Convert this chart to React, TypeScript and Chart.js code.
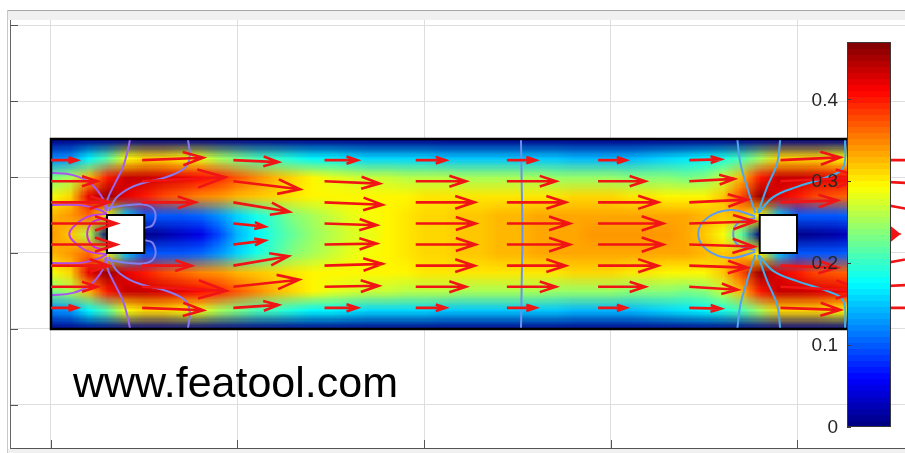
import React, { useEffect, useRef } from "react";
import { Chart, registerables } from "chart.js";

Chart.register(...registerables);

// ---------- axes ----------
const X_MIN = -0.1099;
const X_MAX = 2.2895;
const Y_MIN = -0.3132;
const Y_MAX = 0.8132;
const X_GRID_TICKS = [0, 0.5, 1, 1.5, 2];
const Y_GRID_TICKS = [-0.2, 0, 0.2, 0.4, 0.6, 0.8];

// ---------- geometry ----------
const CHANNEL_X = [0, 2.2];
const CHANNEL_Y = [0, 0.5];
const OBSTACLE_X_MIN = [0.15, 1.9];
const OBSTACLE_X_MAX = [0.25, 2.0];
const OBSTACLE_Y_MIN = [0.2, 0.2];
const OBSTACLE_Y_MAX = [0.3, 0.3];

// ---------- colour bar ----------
const CBAR_MIN = 0;
const CBAR_MAX = 0.47;
const CBAR_TICKS = [0, 0.1, 0.2, 0.3, 0.4];
const CBAR_LABELS = ["0", "0.1", "0.2", "0.3", "0.4"];
const WATERMARK = "www.featool.com";

// ---------- velocity magnitude samples (heat map) ----------
const HEAT_X = [
  0, 0.05, 0.1, 0.15, 0.2, 0.25, 0.3, 0.35, 0.4, 0.45, 0.5, 0.55, 0.6, 0.65, 0.7, 0.75, 0.8, 0.85, 0.9, 0.95,
  1.0, 1.05, 1.1, 1.15, 1.2, 1.25, 1.3, 1.35, 1.4, 1.45, 1.5, 1.55, 1.6, 1.65, 1.7, 1.75, 1.8, 1.85, 1.9, 1.95,
  2.0, 2.05, 2.1, 2.15, 2.2,
];
const HEAT_Y = [0.5, 0.45, 0.4, 0.35, 0.3, 0.25, 0.2, 0.15, 0.1, 0.05, 0];

const SPEED_Y050 = [
  0, 0, 0, 0, 0, 0, 0, 0, 0, 0, 0, 0, 0, 0, 0, 0, 0, 0, 0, 0, 0, 0, 0, 0, 0, 0, 0, 0, 0, 0, 0, 0, 0, 0, 0, 0, 0, 0, 0, 0, 0, 0, 0, 0, 0,
];
const SPEED_Y045 = [
  0.12, 0.13, 0.17, 0.22, 0.29, 0.31, 0.31, 0.3, 0.28, 0.25, 0.23, 0.21, 0.2, 0.185, 0.175, 0.17, 0.165, 0.16, 0.158, 0.155,
  0.155, 0.153, 0.152, 0.151, 0.15, 0.149, 0.148, 0.147, 0.146, 0.145, 0.145, 0.146, 0.148, 0.155, 0.165, 0.175, 0.19, 0.21, 0.25, 0.31,
  0.31, 0.31, 0.3, 0.3, 0.29,
];
const SPEED_Y040 = [
  0.23, 0.25, 0.33, 0.4, 0.44, 0.44, 0.43, 0.42, 0.41, 0.39, 0.37, 0.35, 0.33, 0.31, 0.295, 0.28, 0.275, 0.27, 0.265, 0.26,
  0.26, 0.258, 0.256, 0.255, 0.254, 0.252, 0.25, 0.248, 0.246, 0.244, 0.243, 0.241, 0.239, 0.235, 0.233, 0.24, 0.27, 0.33, 0.4, 0.44,
  0.44, 0.43, 0.42, 0.41, 0.4,
];
const SPEED_Y035 = [
  0.29, 0.31, 0.42, 0.46, 0.42, 0.4, 0.38, 0.36, 0.35, 0.34, 0.33, 0.32, 0.31, 0.305, 0.3, 0.3, 0.3, 0.3, 0.3, 0.3,
  0.305, 0.305, 0.305, 0.305, 0.305, 0.306, 0.307, 0.308, 0.309, 0.31, 0.31, 0.308, 0.305, 0.3, 0.3, 0.3, 0.32, 0.38, 0.46, 0.42,
  0.4, 0.38, 0.37, 0.36, 0.35,
];
const SPEED_Y030 = [
  0.33, 0.34, 0.36, 0.3, 0.15, 0.1, 0.1, 0.1, 0.11, 0.13, 0.16, 0.19, 0.21, 0.235, 0.25, 0.265, 0.28, 0.29, 0.3, 0.305,
  0.31, 0.315, 0.32, 0.322, 0.325, 0.328, 0.331, 0.333, 0.335, 0.336, 0.336, 0.336, 0.335, 0.335, 0.335, 0.33, 0.32, 0.33, 0.3, 0.15,
  0.1, 0.1, 0.1, 0.11, 0.12,
];
const SPEED_Y025 = [
  0.34, 0.32, 0.26, 0, 0, 0, 0.02, 0.03, 0.05, 0.09, 0.14, 0.17, 0.2, 0.225, 0.245, 0.26, 0.275, 0.285, 0.295, 0.305,
  0.31, 0.315, 0.32, 0.323, 0.326, 0.33, 0.333, 0.335, 0.337, 0.338, 0.338, 0.338, 0.338, 0.338, 0.335, 0.32, 0.29, 0.22, 0, 0,
  0, 0.01, 0.02, 0.03, 0.05,
];
const SPEED_Y020 = [
  0.33, 0.34, 0.36, 0.3, 0.15, 0.1, 0.1, 0.1, 0.11, 0.13, 0.16, 0.19, 0.21, 0.235, 0.25, 0.265, 0.28, 0.29, 0.3, 0.305,
  0.31, 0.315, 0.32, 0.322, 0.325, 0.328, 0.331, 0.333, 0.335, 0.336, 0.336, 0.336, 0.335, 0.335, 0.335, 0.33, 0.32, 0.33, 0.3, 0.15,
  0.1, 0.1, 0.1, 0.11, 0.12,
];
const SPEED_Y015 = [
  0.29, 0.31, 0.42, 0.46, 0.42, 0.4, 0.38, 0.36, 0.35, 0.34, 0.33, 0.32, 0.31, 0.305, 0.3, 0.3, 0.3, 0.3, 0.3, 0.3,
  0.305, 0.305, 0.305, 0.305, 0.305, 0.306, 0.307, 0.308, 0.309, 0.31, 0.31, 0.308, 0.305, 0.3, 0.3, 0.3, 0.32, 0.38, 0.46, 0.42,
  0.4, 0.38, 0.37, 0.36, 0.35,
];
const SPEED_Y010 = [
  0.23, 0.25, 0.33, 0.4, 0.44, 0.44, 0.43, 0.42, 0.41, 0.39, 0.37, 0.35, 0.33, 0.31, 0.295, 0.28, 0.275, 0.27, 0.265, 0.26,
  0.26, 0.258, 0.256, 0.255, 0.254, 0.252, 0.25, 0.248, 0.246, 0.244, 0.243, 0.241, 0.239, 0.235, 0.233, 0.24, 0.27, 0.33, 0.4, 0.44,
  0.44, 0.43, 0.42, 0.41, 0.4,
];
const SPEED_Y005 = [
  0.12, 0.13, 0.17, 0.22, 0.29, 0.31, 0.31, 0.3, 0.28, 0.25, 0.23, 0.21, 0.2, 0.185, 0.175, 0.17, 0.165, 0.16, 0.158, 0.155,
  0.155, 0.153, 0.152, 0.151, 0.15, 0.149, 0.148, 0.147, 0.146, 0.145, 0.145, 0.146, 0.148, 0.155, 0.165, 0.175, 0.19, 0.21, 0.25, 0.31,
  0.31, 0.31, 0.3, 0.3, 0.29,
];
const SPEED_Y000 = [
  0, 0, 0, 0, 0, 0, 0, 0, 0, 0, 0, 0, 0, 0, 0, 0, 0, 0, 0, 0, 0, 0, 0, 0, 0, 0, 0, 0, 0, 0, 0, 0, 0, 0, 0, 0, 0, 0, 0, 0, 0, 0, 0, 0, 0,
];
const HEAT_ROWS = [
  SPEED_Y050, SPEED_Y045, SPEED_Y040, SPEED_Y035, SPEED_Y030, SPEED_Y025,
  SPEED_Y020, SPEED_Y015, SPEED_Y010, SPEED_Y005, SPEED_Y000,
];

// ---------- quiver (arrows) ----------
const ARROW_X = [0, 0.2444, 0.4889, 0.7333, 0.9778, 1.2222, 1.4667, 1.7111, 1.9556, 2.2];
const ARROW_Y = [0.4444, 0.3889, 0.3333, 0.2778, 0.2222, 0.1667, 0.1111, 0.0556];
const ARROW_U = [
  [0.135, 0.316, 0.233, 0.17, 0.155, 0.15, 0.145, 0.165, 0.31, 0.3],
  [0.24, 0.43, 0.345, 0.285, 0.26, 0.254, 0.244, 0.233, 0.43, 0.4],
  [0.3, 0.275, 0.29, 0.3, 0.305, 0.305, 0.31, 0.3, 0.295, 0.33],
  [0.34, 0, 0.164, 0.27, 0.31, 0.326, 0.337, 0.34, 0, 0.135],
  [0.34, 0, 0.164, 0.27, 0.31, 0.326, 0.337, 0.335, 0, 0.135],
  [0.3, 0.255, 0.285, 0.3, 0.305, 0.305, 0.31, 0.3, 0.295, 0.33],
  [0.24, 0.435, 0.34, 0.28, 0.26, 0.254, 0.244, 0.25, 0.43, 0.4],
  [0.135, 0.316, 0.233, 0.17, 0.155, 0.15, 0.145, 0.165, 0.31, 0.3],
];
const ARROW_V = [
  [0, 0.012, -0.01, 0, 0, 0, 0, 0.004, 0.014, 0],
  [0, 0.02, -0.041, -0.012, 0, 0, 0, 0.012, 0.02, -0.02],
  [0, 0, -0.048, -0.012, 0, 0, 0, 0.014, 0.01, -0.06],
  [0, 0, -0.016, -0.009, 0, 0, 0, 0.01, 0, -0.05],
  [0, 0, 0.02, 0.005, 0, 0, 0, -0.01, 0, 0.05],
  [0, 0, 0.048, 0.009, 0, 0, 0, -0.01, -0.01, 0.06],
  [0, -0.02, 0.036, 0.005, 0, 0, 0, -0.015, -0.02, 0.02],
  [0, -0.012, 0.015, 0, 0, 0, 0, -0.004, -0.01, 0],
];
const ARROW_SCALE = 0.5176;

// ---------- contour lines ----------
type P = { x: number; y: number };
const pts = (a: number[][]): P[] => a.map(([x, y]) => ({ x, y }));

const C_A_TOP = pts([[0.212, 0.5], [0.206, 0.471], [0.193, 0.426], [0.172, 0.384], [0.153, 0.345], [0.145, 0.313]]);
const C_A_BOT = pts([[0.212, 0], [0.206, 0.029], [0.193, 0.074], [0.172, 0.116], [0.153, 0.155], [0.145, 0.187]]);
const C_B_TOP = pts([[0.367, 0.5], [0.372, 0.455], [0.36, 0.425], [0.31, 0.4], [0.25, 0.385], [0.21, 0.37], [0.175, 0.345], [0.155, 0.31]]);
const C_B_BOT = pts([[0.367, 0], [0.372, 0.045], [0.36, 0.075], [0.31, 0.1], [0.25, 0.115], [0.21, 0.13], [0.175, 0.155], [0.155, 0.19]]);
const C_C_TOP = pts([[0, 0.411], [0.059, 0.405], [0.105, 0.384], [0.137, 0.347], [0.15, 0.31]]);
const C_C_BOT = pts([[0, 0.089], [0.059, 0.095], [0.105, 0.116], [0.137, 0.153], [0.15, 0.19]]);
const C_D_TOP = pts([[0, 0.326], [0.078, 0.326], [0.131, 0.313], [0.15, 0.303]]);
const C_D_BOT = pts([[0, 0.174], [0.078, 0.174], [0.131, 0.187], [0.15, 0.197]]);
const C_E_LOOP = pts([[0.15, 0.303], [0.097, 0.295], [0.059, 0.268], [0.049, 0.25], [0.059, 0.232], [0.097, 0.205], [0.15, 0.197]]);
const C_F_LOOP = pts([[0.15, 0.292], [0.113, 0.282], [0.097, 0.25], [0.113, 0.218], [0.15, 0.208]]);
const C_G_TOP = pts([[0.15, 0.318], [0.204, 0.326], [0.257, 0.326], [0.279, 0.308], [0.273, 0.274], [0.252, 0.266]]);
const C_G_BOT = pts([[0.15, 0.182], [0.204, 0.174], [0.257, 0.174], [0.279, 0.192], [0.273, 0.226], [0.252, 0.234]]);
const C_MID = pts([[1.26, 0.5], [1.262, 0.375], [1.264, 0.25], [1.262, 0.125], [1.26, 0]]);
const C_H_TOP = pts([[1.84, 0.5], [1.848, 0.437], [1.866, 0.374], [1.888, 0.305]]);
const C_H_BOT = pts([[1.84, 0], [1.848, 0.063], [1.866, 0.126], [1.888, 0.195]]);
const C_I_TOP = pts([[1.955, 0.5], [1.947, 0.437], [1.92, 0.374], [1.895, 0.305]]);
const C_I_BOT = pts([[1.955, 0], [1.947, 0.063], [1.92, 0.126], [1.895, 0.195]]);
const C_J_TOP = pts([[2.129, 0.5], [2.124, 0.426], [2.081, 0.4], [2.0, 0.374], [1.936, 0.347], [1.897, 0.305]]);
const C_J_BOT = pts([[2.129, 0], [2.124, 0.074], [2.081, 0.1], [2.0, 0.126], [1.936, 0.153], [1.897, 0.195]]);
const C_K_LOOP = pts([[1.888, 0.297], [1.821, 0.313], [1.759, 0.292], [1.735, 0.25], [1.759, 0.208], [1.821, 0.187], [1.888, 0.203]]);
const C_L_LOOP = pts([[1.888, 0.292], [1.842, 0.279], [1.829, 0.25], [1.842, 0.221], [1.888, 0.208]]);

const CONTOURS: { data: P[]; color: string }[] = [
  { data: C_A_TOP, color: "#9a66f0" },
  { data: C_A_BOT, color: "#9a66f0" },
  { data: C_B_TOP, color: "#8a78ee" },
  { data: C_B_BOT, color: "#8a78ee" },
  { data: C_C_TOP, color: "#a858ec" },
  { data: C_C_BOT, color: "#a858ec" },
  { data: C_D_TOP, color: "#b24ce8" },
  { data: C_D_BOT, color: "#b24ce8" },
  { data: C_E_LOOP, color: "#bf40e4" },
  { data: C_F_LOOP, color: "#d22cd8" },
  { data: C_G_TOP, color: "#8080ee" },
  { data: C_G_BOT, color: "#8080ee" },
  { data: C_MID, color: "#6a92ee" },
  { data: C_H_TOP, color: "#4ea6ee" },
  { data: C_H_BOT, color: "#4ea6ee" },
  { data: C_I_TOP, color: "#48aaee" },
  { data: C_I_BOT, color: "#48aaee" },
  { data: C_J_TOP, color: "#40b0ee" },
  { data: C_J_BOT, color: "#40b0ee" },
  { data: C_K_LOOP, color: "#5e9cee" },
  { data: C_L_LOOP, color: "#6c90ee" },
];

// ---------- helpers ----------
const clamp01 = (v: number) => Math.min(1, Math.max(0, v));
function jet(v: number): [number, number, number] {
  const t = clamp01((v - CBAR_MIN) / (CBAR_MAX - CBAR_MIN));
  const k = Math.min(63, Math.floor(t * 64));
  const tt = (k + 0.5) / 64;
  return [
    Math.round(255 * clamp01(1.5 - Math.abs(4 * tt - 3))),
    Math.round(255 * clamp01(1.5 - Math.abs(4 * tt - 2))),
    Math.round(255 * clamp01(1.5 - Math.abs(4 * tt - 1))),
  ];
}

const FONT = '"Liberation Sans", Arial, Helvetica, sans-serif';

const framePlugin = {
  id: "frame",
  beforeDraw(chart: any) {
    const ctx = chart.ctx;
    ctx.save();
    ctx.fillStyle = "#ffffff";
    ctx.fillRect(0, 0, chart.width, chart.height);
    ctx.fillStyle = "#a6a6a6";
    ctx.fillRect(7, 10, chart.width - 7, 1);
    ctx.fillStyle = "#f0f0f0";
    ctx.fillRect(8, 11, chart.width - 8, 9);
    ctx.fillStyle = "#c8c8c8";
    ctx.fillRect(7, 10, 1, chart.height - 10);
    ctx.fillStyle = "#f0f0f0";
    ctx.fillRect(8, 449, chart.width - 8, chart.height - 449);
    ctx.restore();
  },
};

const heatPlugin = {
  id: "heat",
  beforeDatasetsDraw(chart: any) {
    const ctx = chart.ctx;
    const xs = chart.scales.x;
    const ys = chart.scales.y;
    const nx = HEAT_X.length;
    const ny = HEAT_Y.length;
    const off = document.createElement("canvas");
    off.width = nx;
    off.height = ny;
    const octx = off.getContext("2d")!;
    const img = octx.createImageData(nx, ny);
    for (let r = 0; r < ny; r++) {
      for (let c = 0; c < nx; c++) {
        const [R, G, B] = jet(HEAT_ROWS[r][c]);
        const o = (r * nx + c) * 4;
        img.data[o] = R;
        img.data[o + 1] = G;
        img.data[o + 2] = B;
        img.data[o + 3] = 255;
      }
    }
    octx.putImageData(img, 0, 0);
    const dx = HEAT_X[1] - HEAT_X[0];
    const dy = HEAT_Y[0] - HEAT_Y[1];
    const l = xs.getPixelForValue(HEAT_X[0] - dx / 2);
    const rgt = xs.getPixelForValue(HEAT_X[nx - 1] + dx / 2);
    const t = ys.getPixelForValue(HEAT_Y[0] + dy / 2);
    const b = ys.getPixelForValue(HEAT_Y[ny - 1] - dy / 2);
    const cl = xs.getPixelForValue(CHANNEL_X[0]);
    const cr = xs.getPixelForValue(CHANNEL_X[1]);
    const ct = ys.getPixelForValue(CHANNEL_Y[1]);
    const cb = ys.getPixelForValue(CHANNEL_Y[0]);
    ctx.save();
    ctx.beginPath();
    ctx.rect(cl, ct, cr - cl, cb - ct);
    ctx.clip();
    ctx.imageSmoothingEnabled = true;
    (ctx as any).imageSmoothingQuality = "low";
    ctx.drawImage(off, l, t, rgt - l, b - t);
    ctx.restore();
  },
  afterDatasetsDraw(chart: any) {
    const ctx = chart.ctx;
    const xs = chart.scales.x;
    const ys = chart.scales.y;
    ctx.save();
    // obstacles
    for (let i = 0; i < OBSTACLE_X_MIN.length; i++) {
      const x0 = xs.getPixelForValue(OBSTACLE_X_MIN[i]);
      const x1 = xs.getPixelForValue(OBSTACLE_X_MAX[i]);
      const y0 = ys.getPixelForValue(OBSTACLE_Y_MAX[i]);
      const y1 = ys.getPixelForValue(OBSTACLE_Y_MIN[i]);
      ctx.fillStyle = "#ffffff";
      ctx.fillRect(x0, y0, x1 - x0, y1 - y0);
      ctx.strokeStyle = "#000000";
      ctx.lineWidth = 2;
      ctx.strokeRect(x0, y0, x1 - x0, y1 - y0);
    }
    // channel border
    const cl = xs.getPixelForValue(CHANNEL_X[0]);
    const cr = xs.getPixelForValue(CHANNEL_X[1]);
    const ct = ys.getPixelForValue(CHANNEL_Y[1]);
    const cb = ys.getPixelForValue(CHANNEL_Y[0]);
    ctx.strokeStyle = "#000000";
    ctx.lineWidth = 2.5;
    ctx.strokeRect(cl, ct, cr - cl, cb - ct);
    // arrows
    ctx.strokeStyle = "rgb(240,20,20)";
    ctx.lineWidth = 2.6;
    ctx.lineCap = "butt";
    ctx.lineJoin = "miter";
    for (let r = 0; r < ARROW_Y.length; r++) {
      for (let c = 0; c < ARROW_X.length; c++) {
        const u = ARROW_U[r][c];
        const v = ARROW_V[r][c];
        if (u === 0 && v === 0) continue;
        const x0 = xs.getPixelForValue(ARROW_X[c]);
        const y0 = ys.getPixelForValue(ARROW_Y[r]);
        const x1 = xs.getPixelForValue(ARROW_X[c] + u * ARROW_SCALE);
        const y1 = ys.getPixelForValue(ARROW_Y[r] + v * ARROW_SCALE);
        const ddx = x1 - x0;
        const ddy = y1 - y0;
        const a = 0.33;
        const be = 0.33;
        ctx.beginPath();
        ctx.moveTo(x0, y0);
        ctx.lineTo(x1, y1);
        ctx.moveTo(x1 - a * (ddx + be * ddy), y1 - a * (ddy - be * ddx));
        ctx.lineTo(x1, y1);
        ctx.lineTo(x1 - a * (ddx - be * ddy), y1 - a * (ddy + be * ddx));
        ctx.stroke();
      }
    }
    ctx.restore();
  },
  afterDraw(chart: any) {
    const ctx = chart.ctx;
    const xs = chart.scales.x;
    const ys = chart.scales.y;
    const area = chart.chartArea;
    ctx.save();
    // inward tick marks
    ctx.strokeStyle = "#555555";
    ctx.lineWidth = 1;
    ctx.beginPath();
    for (const v of Y_GRID_TICKS) {
      const y = Math.round(ys.getPixelForValue(v)) + 0.5;
      ctx.moveTo(area.left, y);
      ctx.lineTo(area.left + 8, y);
    }
    for (const v of X_GRID_TICKS) {
      const x = Math.round(xs.getPixelForValue(v)) + 0.5;
      ctx.moveTo(x, area.bottom);
      ctx.lineTo(x, area.bottom - 8);
    }
    ctx.stroke();

    // watermark
    ctx.fillStyle = "#000000";
    ctx.font = `43px ${FONT}`;
    ctx.textAlign = "left";
    ctx.textBaseline = "alphabetic";
    ctx.fillText(WATERMARK, 73, 397);

    // colour bar
    const bl = 847;
    const br = 891;
    const bt = 42;
    const bb = 427;
    const n = 64;
    for (let k = 0; k < n; k++) {
      const v0 = CBAR_MIN + ((CBAR_MAX - CBAR_MIN) * k) / n;
      const yTop = bb - ((k + 1) / n) * (bb - bt);
      const yBot = bb - (k / n) * (bb - bt);
      const [R, G, B] = jet(v0 + (CBAR_MAX - CBAR_MIN) / (2 * n));
      ctx.fillStyle = `rgb(${R},${G},${B})`;
      ctx.fillRect(bl, Math.floor(yTop), br - bl, Math.ceil(yBot) - Math.floor(yTop));
    }
    ctx.strokeStyle = "#3a3a3a";
    ctx.lineWidth = 1;
    ctx.strokeRect(bl + 0.5, bt + 0.5, br - bl - 1, bb - bt - 1);
    ctx.fillStyle = "#262626";
    ctx.font = `19px ${FONT}`;
    ctx.textAlign = "right";
    ctx.textBaseline = "middle";
    ctx.beginPath();
    for (let i = 0; i < CBAR_TICKS.length; i++) {
      const y = bb - ((CBAR_TICKS[i] - CBAR_MIN) / (CBAR_MAX - CBAR_MIN)) * (bb - bt);
      ctx.moveTo(bl, Math.round(y) + 0.5);
      ctx.lineTo(bl + 4, Math.round(y) + 0.5);
      ctx.fillText(CBAR_LABELS[i], 838, y + 1);
    }
    ctx.stroke();
    ctx.restore();
  },
};

export default function App() {
  const ref = useRef<HTMLCanvasElement | null>(null);
  useEffect(() => {
    if (!ref.current) return;
    const chart = new Chart(ref.current, {
      type: "scatter",
      data: {
        datasets: CONTOURS.map((c) => ({
          data: c.data,
          showLine: true,
          borderColor: c.color,
          backgroundColor: c.color,
          borderWidth: 2,
          pointRadius: 0,
          tension: 0.4,
        })),
      },
      options: {
        animation: false,
        responsive: false,
        maintainAspectRatio: false,
        events: [],
        layout: { padding: { left: 10, top: 20, right: 0, bottom: 5 } },
        plugins: { legend: { display: false }, tooltip: { enabled: false }, title: { display: false } },
        scales: {
          x: {
            type: "linear",
            min: X_MIN,
            max: X_MAX,
            ticks: { display: false },
            grid: { color: "#dedede", drawTicks: false, lineWidth: 1 },
            border: { display: true, color: "#555555", width: 1 },
            afterBuildTicks: (s: any) => {
              s.ticks = X_GRID_TICKS.map((v) => ({ value: v }));
            },
          },
          y: {
            type: "linear",
            min: Y_MIN,
            max: Y_MAX,
            ticks: { display: false },
            grid: { color: "#dedede", drawTicks: false, lineWidth: 1 },
            border: { display: true, color: "#666666", width: 1 },
            afterBuildTicks: (s: any) => {
              s.ticks = Y_GRID_TICKS.map((v) => ({ value: v }));
            },
          },
        },
      } as any,
      plugins: [framePlugin, heatPlugin],
    });
    return () => chart.destroy();
  }, []);
  return (
    <div style={{ position: "absolute", left: 0, top: 0, width: 905, height: 453, background: "#fff" }}>
      <canvas ref={ref} width={905} height={453} style={{ width: 905, height: 453, display: "block" }} />
    </div>
  );
}
